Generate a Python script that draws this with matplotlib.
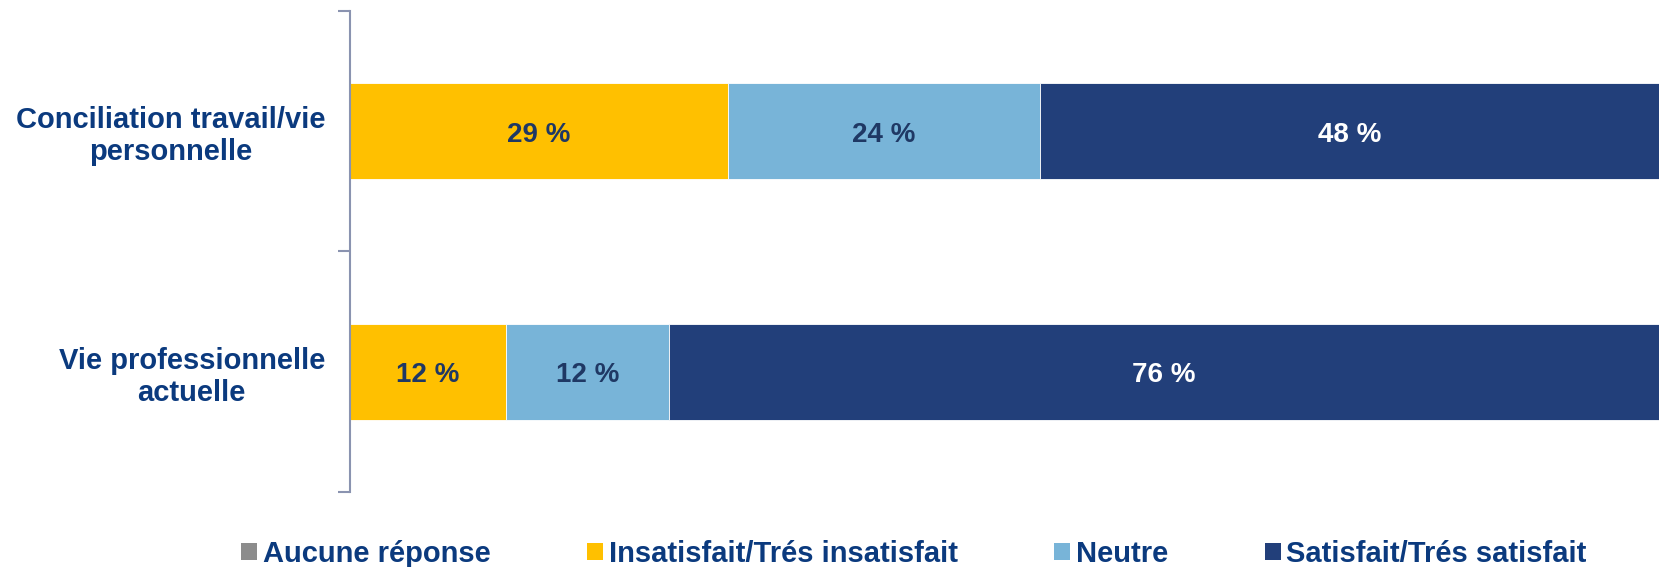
import matplotlib.pyplot as plt
from matplotlib.patches import Patch

plt.rcParams['font.family'] = ['Liberation Sans', 'DejaVu Sans']
plt.rcParams['font.weight'] = 'bold'

# data (top to bottom in the picture)
categories = ['Conciliation travail/vie\npersonnelle', 'Vie professionnelle\nactuelle']
series = ['Aucune réponse', 'Insatisfait/Trés insatisfait', 'Neutre', 'Satisfait/Trés satisfait']
aucune = [0, 0]
insatisfait = [28.9, 11.9]
neutre = [23.8, 12.5]
satisfait = [47.3, 75.6]
labels_ins = ['29 %', '12 %']
labels_neu = ['24 %', '12 %']
labels_sat = ['48 %', '76 %']

colors = ['#8C8C8C', '#FFC000', '#78B4D8', '#223F7A']
txt_colors = [None, '#1F3864', '#1F3864', 'white']
cat_color = '#0B3A7E'

fig = plt.figure(figsize=(16.59, 5.67), dpi=100)
ax = fig.add_axes([350 / 1659, 1 - 492 / 567, 1 - 350 / 1659, (492 - 10.6) / 567])

ypos = [1, 0]
left = [0, 0]
values = [aucune, insatisfait, neutre, satisfait]
texts = [None, labels_ins, labels_neu, labels_sat]
for vals, col, tcol, labs in zip(values, colors, txt_colors, texts):
    bars = ax.barh(ypos, vals, left=left, height=0.4, color=col,
                   edgecolor='white', linewidth=0.6)
    if labs is not None:
        for b, lab in zip(bars, labs):
            ax.text(b.get_x() + b.get_width() / 2,
                    b.get_y() + b.get_height() / 2 - 0.015,
                    lab, ha='center', va='center', fontsize=20,
                    fontweight='bold', color=tcol)
    left = [l + v for l, v in zip(left, vals)]

ax.set_xlim(0, 100)
ax.set_ylim(-0.5, 1.5)
ax.set_xticks([])
ax.set_yticks(ypos)
ax.set_yticklabels(categories, fontsize=21, fontweight='bold', color=cat_color,
                   multialignment='center')
ax.set_yticks([-0.5, 0.5, 1.5], minor=True)
ax.tick_params(axis='y', which='major', length=0, pad=18)
ax.tick_params(axis='y', which='minor', length=9, width=1.5, color='#8A93B0')
for s in ['top', 'right', 'bottom']:
    ax.spines[s].set_visible(False)
ax.spines['left'].set_color('#8A93B0')
ax.spines['left'].set_linewidth(1.5)

handles = [Patch(facecolor=c, edgecolor='none') for c in colors]
leg = fig.legend(handles, series, loc='center', ncol=4,
                 bbox_to_anchor=(914 / 1659, 1 - 554 / 567), frameon=False,
                 fontsize=21, handlelength=0.55, handleheight=0.55,
                 handletextpad=0.2, columnspacing=3.3, borderpad=0)
for t in leg.get_texts():
    t.set_color(cat_color)
    t.set_fontweight('bold')

fig.savefig('out.png', dpi=100)
